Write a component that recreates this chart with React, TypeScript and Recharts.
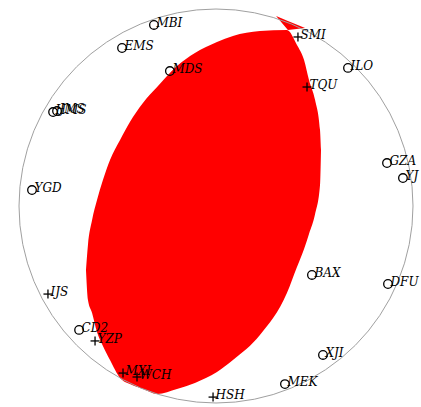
import React from 'react';
import { ComposedChart, Area, Scatter, XAxis, YAxis, ReferenceDot } from 'recharts';

// Compressional (red) lens between the two nodal planes: x, [lower, upper]
const lensX = [-0.660, -0.650, -0.629, -0.604, -0.574, -0.538, -0.487, -0.437, -0.371, -0.299, -0.198, -0.107, 0.005, 0.086, 0.223, 0.360, 0.411, 0.447, 0.472, 0.503, 0.528, 0.533];
const lensLow = [-0.325, -0.477, -0.543, -0.640, -0.711, -0.782, -0.873, -0.904, -0.929, -0.954, -0.929, -0.898, -0.843, -0.782, -0.655, -0.442, -0.310, -0.218, -0.142, -0.041, 0.107, 0.284];
const lensHigh = [-0.325, -0.198, -0.071, 0.030, 0.132, 0.234, 0.335, 0.426, 0.523, 0.604, 0.711, 0.777, 0.832, 0.863, 0.888, 0.893, 0.817, 0.741, 0.640, 0.538, 0.386, 0.284];

// Small opposite compressional sliver near the top
const triX = [0.305, 0.365, 0.452];
const triLow = [0.964, 0.893, 0.904];
const triHigh = [0.964, 0.939, 0.904];

// Stations
const stationNames = ['MBI', 'EMS', 'MDS', 'SMI', 'ILO', 'TQU', 'HMS', 'JMS', 'GZA', 'YJ', 'YGD', 'BAX', 'DFU', 'IJS', 'CD2', 'YZP', 'MXI', 'WCH', 'HSH', 'MEK', 'XJI'];
const stationX = [-0.315, -0.477, -0.234, 0.416, 0.670, 0.462, -0.827, -0.807, 0.868, 0.949, -0.934, 0.487, 0.873, -0.853, -0.695, -0.614, -0.472, -0.401, -0.015, 0.350, 0.543];
const stationY = [0.919, 0.802, 0.685, 0.858, 0.701, 0.604, 0.477, 0.482, 0.218, 0.142, 0.081, -0.350, -0.396, -0.447, -0.629, -0.685, -0.848, -0.868, -0.970, -0.904, -0.756];
const stationPolarity = ['D', 'D', 'D', 'C', 'D', 'C', 'D', 'D', 'D', 'D', 'D', 'D', 'D', 'C', 'D', 'C', 'C', 'C', 'C', 'D', 'D'];

const lensData = lensX.map((x, i) => ({ x, r: [lensLow[i], lensHigh[i]] }));
const triData = triX.map((x, i) => ({ x, r: [triLow[i], triHigh[i]] }));
const stations = stationNames.map((name, i) => ({ name, x: stationX[i], y: stationY[i], pol: stationPolarity[i] }));

const StationMark = (props: any) => {
  const { cx, cy, payload } = props;
  if (cx == null || cy == null) return null;
  const isUp = payload.pol === 'C';
  return (
    <g>
      {isUp ? (
        <g stroke="#000" strokeWidth={1.3}>
          <line x1={cx - 4.5} y1={cy} x2={cx + 4.5} y2={cy} />
          <line x1={cx} y1={cy - 4.5} x2={cx} y2={cy + 4.5} />
        </g>
      ) : (
        <circle cx={cx} cy={cy} r={4.3} fill="none" stroke="#000" strokeWidth={1.3} />
      )}
      <text x={cx + 2.5} y={cy + 2} fontFamily="DejaVu Serif" fontStyle="italic" fontSize={12} fill="#000">
        {payload.name}
      </text>
    </g>
  );
};

export default function App() {
  return (
    <div style={{ width: 405, height: 391 }}>
      <div style={{ position: 'fixed', left: 0, top: 0, width: 421, height: 407, background: '#fff' }}>
        <ComposedChart width={421} height={407} data={lensData} margin={{ top: 9, left: 19, right: 0, bottom: 4 }}>
          <XAxis type="number" dataKey="x" domain={[-1, 1.0406]} hide />
          <YAxis type="number" domain={[-1, 1]} hide />
          <Area type="monotoneX" dataKey="r" fill="#ff0000" fillOpacity={1} stroke="none" isAnimationActive={false} activeDot={false} dot={false} />
          <Area type="linear" data={triData} dataKey="r" fill="#ff0000" fillOpacity={1} stroke="none" isAnimationActive={false} activeDot={false} dot={false} />
          <ReferenceDot x={0} y={0} r={197} fill="none" stroke="#a0a0a0" strokeWidth={1} />
          <Scatter data={stations} dataKey="y" shape={StationMark} isAnimationActive={false} />
        </ComposedChart>
      </div>
    </div>
  );
}
